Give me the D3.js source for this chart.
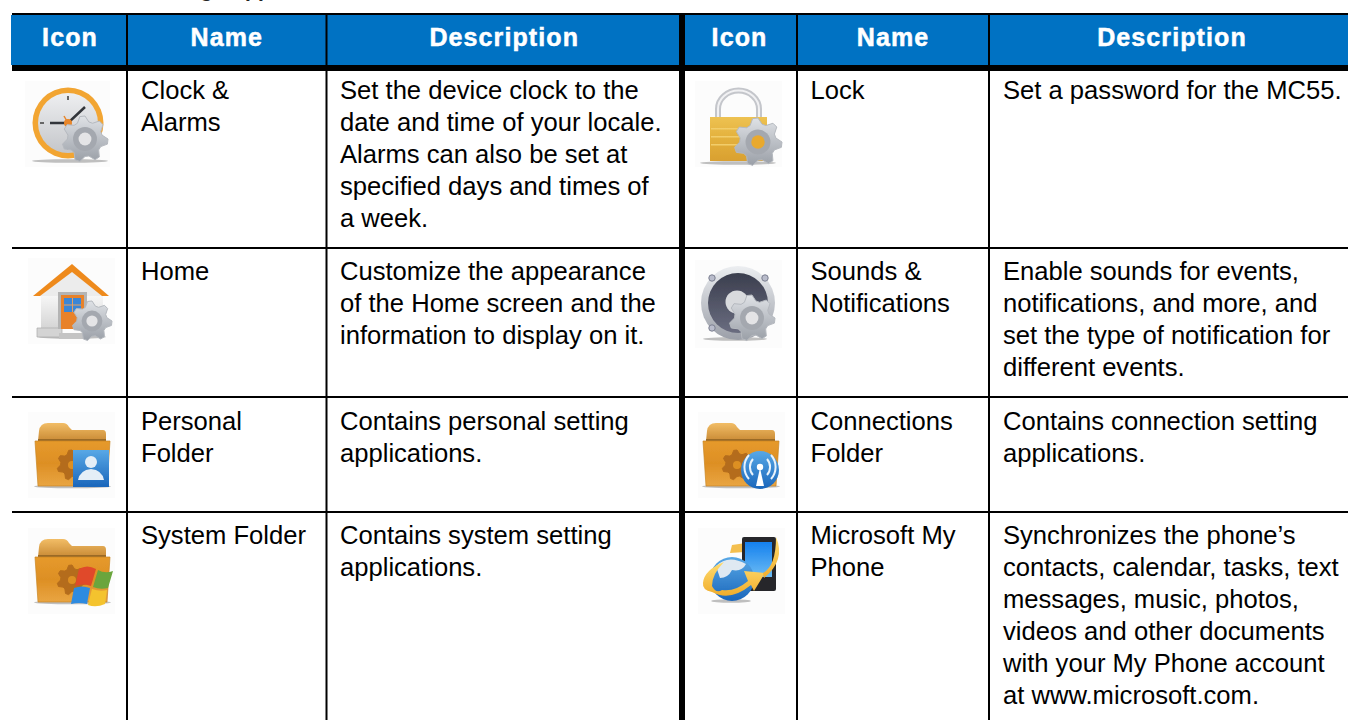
<!DOCTYPE html>
<html><head><meta charset="utf-8">
<script src="https://cdn.jsdelivr.net/npm/d3@7/dist/d3.min.js"></script>
<style>html,body{margin:0;padding:0;background:#fff;overflow:hidden}svg{display:block}</style>
</head><body><svg id="c" width="1348" height="720"></svg>
<script>
const headers = ["Icon","Name","Description","Icon","Name","Description"];
const names = [
 [["Clock &","Alarms"],["Lock"]],
 [["Home"],["Sounds &","Notifications"]],
 [["Personal","Folder"],["Connections","Folder"]],
 [["System Folder"],["Microsoft My","Phone"]]
];
const descriptions = [
 [["Set the device clock to the","date and time of your locale.","Alarms can also be set at","specified days and times of","a week."],["Set a password for the MC55."]],
 [["Customize the appearance","of the Home screen and the","information to display on it."],["Enable sounds for events,","notifications, and more, and","set the type of notification for","different events."]],
 [["Contains personal setting","applications."],["Contains connection setting","applications."]],
 [["Contains system setting","applications."],["Synchronizes the phone’s","contacts, calendar, tasks, text","messages, music, photos,","videos and other documents","with your My Phone account","at www.microsoft.com."]]
];
const icons = [["clock","lock"],["home","speaker"],["person","wifi"],["windows","globe"]];
const colEdges = [12,127,326.5,682,797,989,1348];
const rowEdges = [71,248,397,512,720];

const svg = d3.select("#c");
const col = d3.scaleOrdinal().domain(d3.range(7)).range(colEdges);
const row = d3.scaleOrdinal().domain(d3.range(5)).range(rowEdges);
const F = "'Liberation Sans',Arial,sans-serif";

svg.append("text").attr("x",142).attr("y",-3).attr("font-family",F).attr("font-size",21).attr("font-weight",700).attr("fill","#222").text("Settings Applications");

svg.append("rect").attr("x",11).attr("y",15).attr("width",1337).attr("height",50).attr("fill","#0072c3");
const hShift=[0.5,0,0,0,0,3.5];
svg.selectAll("text.h").data(headers).join("text").attr("class","h")
 .attr("x",(d,i)=>(col(i)+col(i+1))/2+hShift[i]).attr("y",46)
 .attr("text-anchor","middle").attr("font-family",F).attr("font-weight",700).attr("font-size",25)
 .attr("letter-spacing",1.1).attr("fill","#fff").attr("stroke","#fff").attr("stroke-width",0.5).text(d=>d);

const line=(x1,y1,x2,y2,w)=>svg.append("line").attr("x1",x1).attr("y1",y1).attr("x2",x2).attr("y2",y2).attr("stroke","#000").attr("stroke-width",w);

const tf=(x,y,lines)=>{const t=svg.append("text").attr("font-family",F).attr("font-size",25.6).attr("fill","#000");
 lines.forEach((l,i)=>t.append("tspan").attr("x",x).attr("y",y+i*32).text(l));};
const nameX=[141,810.5], descX=[340,1003], rowY=[99,280,430,544];
names.forEach((r,ri)=>r.forEach((n,si)=>tf(nameX[si],rowY[ri],n)));
descriptions.forEach((r,ri)=>r.forEach((n,si)=>tf(descX[si],rowY[ri],n)));

// icons
const defs=svg.append("defs");
const lg=(id,stops,x2=0,y2=1)=>{const g=defs.append("linearGradient").attr("id",id).attr("x1",0).attr("y1",0).attr("x2",x2).attr("y2",y2);
 stops.forEach((s,i)=>g.append("stop").attr("offset",i/(stops.length-1)).attr("stop-color",s));};
lg("fold",["#e69a2c","#dd8f24","#e9a542"]);lg("tab",["#f2bd66","#c98a35"]);
lg("gear",["#dfe2e6","#9a9fa7"]);lg("gold",["#eec252","#e3b03c","#d9a030"]);
lg("blue",["#58a8e6","#1a66bb"]);lg("screen",["#1480ee","#6cbcf4"]);
lg("steel",["#eceef1","#9b9fa8"]);lg("wall",["#f6f6f6","#d4d4d4"]);
lg("arrow",["#ffdc70","#f0ad2c"]);lg("face",["#eeeff1","#c4c6ca"]);lg("cone",["#3b3e4e","#6a6d80"]);
const blur=defs.append("filter").attr("id","soft").attr("x","-10%").attr("y","-10%").attr("width","120%").attr("height","120%");
blur.append("feGaussianBlur").attr("stdDeviation",0.55);

function gear(g,cx,cy,r,fill,hole){
 const n=7,pts=[];
 for(let i=0;i<n*4;i++){const a=(i-1)/(n*4)*2*Math.PI-Math.PI/2;const rr=(i%4<2)?r:r*0.76;pts.push([cx+rr*Math.cos(a),cy+rr*Math.sin(a)]);}
 g.append("path").attr("d",d3.line().curve(d3.curveLinearClosed)(pts)).attr("fill",fill||"url(#gear)").attr("stroke",fill||"#b5b9bf").attr("stroke-width",1).attr("stroke-linejoin","round");
 if(hole!==null){g.append("circle").attr("cx",cx).attr("cy",cy).attr("r",r*0.52).attr("fill","#a4a8af");
 g.append("circle").attr("cx",cx).attr("cy",cy).attr("r",r*0.28).attr("fill",hole||"#e4e4e6");}
}
function shadow(g,cx,cy,rx){g.append("ellipse").attr("cx",cx).attr("cy",cy).attr("rx",rx).attr("ry",1.8).attr("fill","#8d8d8d").attr("opacity",.55);}
function folderBody(g,x0,x1,tabTop,frontTop,bottom){
 shadow(g,(x0+x1)/2,bottom+0.5,(x1-x0)/2+1);
 g.append("path").attr("d",`M${x0+3} ${frontTop}L${x0+4} ${tabTop+8}Q${x0+5} ${tabTop} ${x0+13} ${tabTop}H${x0+28}Q${x0+32} ${tabTop} ${x0+34} ${tabTop+4}L${x0+37} ${tabTop+7}H${x1-7}Q${x1-4} ${tabTop+7} ${x1-4} ${tabTop+11}V${frontTop}Z`).attr("fill","url(#tab)");
 g.append("rect").attr("x",x0+3).attr("y",frontTop-2).attr("width",x1-x0-7).attr("height",2).attr("fill","#9a6a28");
 g.append("path").attr("d",`M${x0} ${frontTop}H${x1}L${x1-3} ${bottom}H${x0+3}Z`).attr("fill","url(#fold)").attr("stroke","#c98522").attr("stroke-width",.7);
}
function screw(g,x,y){g.append("circle").attr("cx",x).attr("cy",y).attr("r",3.2).attr("fill","#b9bccb").attr("stroke","#7b7f90").attr("stroke-width",1);}
const draw={
 clock(g){
  g.append("rect").attr("x",25).attr("y",81).attr("width",85).attr("height",86).attr("fill","#fcfcfc");
  shadow(g,70,161,38);
  g.append("circle").attr("cx",68).attr("cy",123).attr("r",35.5).attr("fill","#f2a533");
  g.append("circle").attr("cx",68).attr("cy",123).attr("r",30).attr("fill","url(#face)");
  [[68,96,68,100],[40,123,44,123],[68,146,68,150]].forEach(d=>g.append("line").attr("x1",d[0]).attr("y1",d[1]).attr("x2",d[2]).attr("y2",d[3]).attr("stroke","#666").attr("stroke-width",2));
  g.append("path").attr("d","M50 123H68L85 107").attr("fill","none").attr("stroke","#33363a").attr("stroke-width",2.5);
  g.append("path").attr("d","M64 116L68 123").attr("fill","none").attr("stroke","#e8862a").attr("stroke-width",1.5);
  g.append("circle").attr("cx",68).attr("cy",123).attr("r",4).attr("fill","#e8862a");
  gear(g,85,139,23);
 },
 lock(g){
  g.append("rect").attr("x",695).attr("y",81).attr("width",87).attr("height",86).attr("fill","#fcfcfc");
  shadow(g,738,163,38);
  g.append("path").attr("d","M718 118V109A20 18 0 0 1 759 109V118").attr("fill","none").attr("stroke","#c4c6cb").attr("stroke-width",6);
  g.append("path").attr("d","M718 118V109A20 18 0 0 1 759 109V118").attr("fill","none").attr("stroke","#f1f1f3").attr("stroke-width",2);
  g.append("rect").attr("x",710).attr("y",117).attr("width",57).attr("height",44).attr("fill","url(#gold)");
  [128,136,144].forEach(y=>g.append("rect").attr("x",711).attr("y",y).attr("width",55).attr("height",1.5).attr("fill","#f2cd6a"));
  gear(g,758,142,24,null,"#e9a92f");
 },
 home(g){
  g.append("rect").attr("x",28).attr("y",258).attr("width",87).attr("height",86).attr("fill","#fcfcfc");
  shadow(g,72,337,34);
  g.append("path").attr("d","M41 296H103V329H41Z").attr("fill","url(#wall)");
  g.append("path").attr("d","M37 328H62V337H37Z").attr("fill","#d4d4d4").attr("stroke","#aaa").attr("stroke-width",.7);
  g.append("path").attr("d","M59 333H85V339H59Z").attr("fill","#c4c4c4");
  g.append("path").attr("d","M40 296L72 271L103 296Z").attr("fill","#ececec");
  g.append("path").attr("d","M33 296L72 264L109 296H102L72 272L40 296Z").attr("fill","#ee8a1e");
  g.append("rect").attr("x",58).attr("y",292).attr("width",29).attr("height",37).attr("fill","#b4b4b4");
  g.append("rect").attr("x",61).attr("y",295).attr("width",23).attr("height",34).attr("fill","#e8822b");
  g.append("rect").attr("x",64).attr("y",298).attr("width",17).attr("height",14).attr("fill","#3b86d6");
  g.append("path").attr("d","M72.5 298V312M64 305H81").attr("stroke","#e8a060").attr("stroke-width",1);
  gear(g,92,321,20);
 },
 speaker(g){
  g.append("rect").attr("x",695).attr("y",260).attr("width",87).attr("height",88).attr("fill","#fcfcfc");
  shadow(g,735,339,32);
  g.append("circle").attr("cx",738).attr("cy",303).attr("r",37).attr("fill","url(#steel)");
  g.append("circle").attr("cx",738).attr("cy",303).attr("r",30).attr("fill","url(#cone)");
  g.append("circle").attr("cx",737).attr("cy",302).attr("r",11.5).attr("fill","#d8dadd");
  screw(g,712,278);screw(g,765,278);screw(g,712,328);
  gear(g,752,318,23);
 },
 person(g){
  g.append("rect").attr("x",28).attr("y",412).attr("width",87).attr("height",86).attr("fill","#fcfcfc");
  folderBody(g,35,110,423,441,486);
  gear(g,72,465,15,"#b46c1c",null);
  g.append("circle").attr("cx",72).attr("cy",465).attr("r",4).attr("fill","#dd8f24");
  g.append("rect").attr("x",73).attr("y",450).attr("width",36).attr("height",37).attr("fill","url(#blue)");
  g.append("circle").attr("cx",91).attr("cy",462).attr("r",6).attr("fill","#e4eef7");
  g.append("path").attr("d","M78 480Q80 470 91 469Q102 470 104 480Z").attr("fill","#e4eef7");
 },
 wifi(g){
  g.append("rect").attr("x",698).attr("y",412).attr("width",87).attr("height",86).attr("fill","#fcfcfc");
  folderBody(g,703,779,423,441,486);
  gear(g,737,465,15,"#b46c1c",null);
  g.append("circle").attr("cx",737).attr("cy",465).attr("r",4).attr("fill","#dd8f24");
  g.append("circle").attr("cx",760).attr("cy",470).attr("r",19).attr("fill","url(#blue)");
  g.append("path").attr("d","M756 486L760 468L764 486Z").attr("fill","#fff");
  g.append("circle").attr("cx",760).attr("cy",467).attr("r",3.2).attr("fill","#fff");
  ["M753 459A12 12 0 0 0 753 475","M767 459A12 12 0 0 1 767 475","M749 455A18 18 0 0 0 749 479","M771 455A18 18 0 0 1 771 479"].forEach(d=>g.append("path").attr("d",d).attr("fill","none").attr("stroke","#eaf3fb").attr("stroke-width",2));
 },
 windows(g){
  g.append("rect").attr("x",28).attr("y",528).attr("width",87).attr("height",86).attr("fill","#fcfcfc");
  folderBody(g,35,110,539,557,602);
  gear(g,72,580,15,"#b46c1c",null);
  g.append("circle").attr("cx",72).attr("cy",580).attr("r",4).attr("fill","#dd8f24");
  g.append("path").attr("d","M79 569Q87 564 96 569L91 586Q84 583 75 586Z").attr("fill","#e0492a");
  g.append("path").attr("d","M98 570Q105 574 113 571L108 588Q100 590 93 587Z").attr("fill","#6aa53c");
  g.append("path").attr("d","M74 588Q82 585 90 588L87 604Q79 602 71 604Z").attr("fill","#2f8be0");
  g.append("path").attr("d","M92 589Q100 592 107 590L105 604Q96 608 88 605Z").attr("fill","#f4c32f");
 },
 globe(g){
  g.append("rect").attr("x",698).attr("y",528).attr("width",87).attr("height",86).attr("fill","#fcfcfc");
  shadow(g,731,601,20);
  g.append("path").attr("d","M746 543L732 545L730 553L745 552Z").attr("fill","#f4bf50");
  g.append("rect").attr("x",742).attr("y",537).attr("width",34).attr("height",54).attr("rx",2).attr("fill","#26282c");
  g.append("rect").attr("x",745).attr("y",542).attr("width",27).attr("height",35).attr("fill","url(#screen)");
  g.append("circle").attr("cx",732).attr("cy",579).attr("r",22).attr("fill","url(#blue)");
  g.append("path").attr("d","M716 566Q728 554 746 564Q742 572 732 570Q728 578 720 578Z").attr("fill","#dfe9f2");
  g.append("path").attr("d","M703 583Q704 570 724 562Q712 574 712 586Q716 594 722 590Q735 592 748 581L744 571L765 573L754 591L751 585Q730 602 712 592Q702 590 703 583Z").attr("fill","url(#arrow)");
  g.append("path").attr("d","M763 573Q776 566 776 537Q786 560 764 578Z").attr("fill","url(#arrow)");
 }
};
icons.forEach((r,ri)=>r.forEach(k=>{const g=svg.append("g").attr("class","icon "+k).attr("filter","url(#soft)");draw[k](g);}));

// grid drawn last so nothing crosses it
line(12,14,1348,14,2);
line(12,68,1348,68,6);
[1,2,3].forEach(r=>line(12,row(r),1348,row(r),2));
[1,2,4,5].forEach(c=>line(col(c),14,col(c),720,2));
line(682,14,682,720,6);
</script></body></html>
